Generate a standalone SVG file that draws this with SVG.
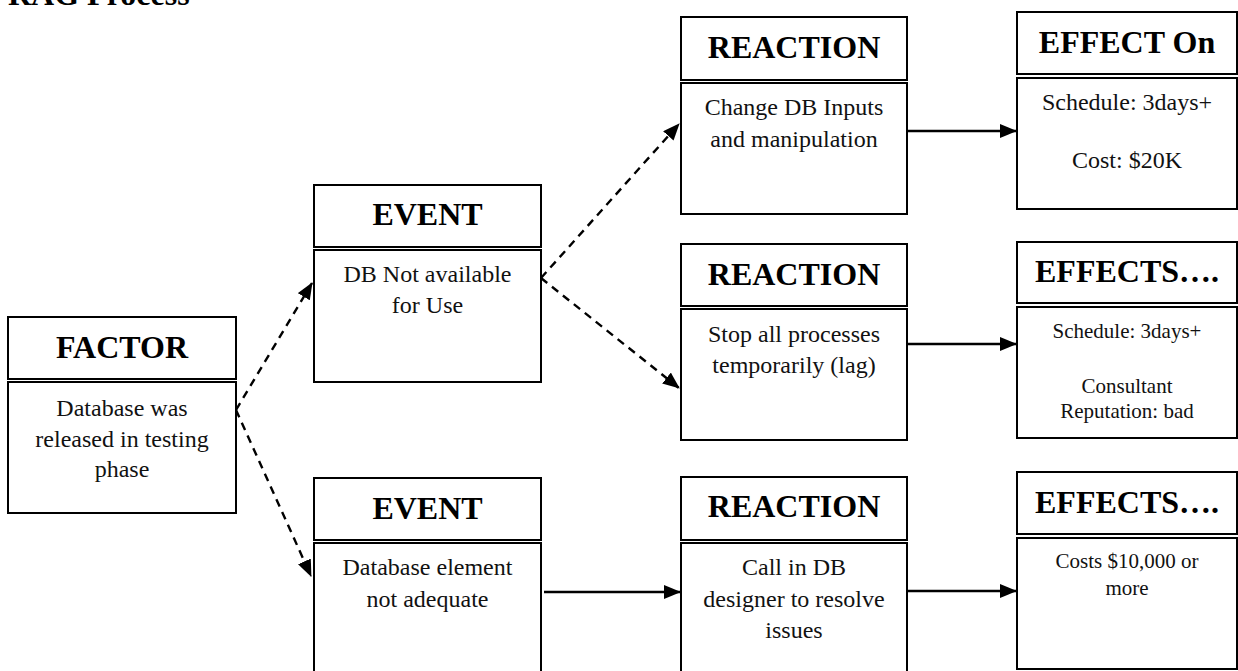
<svg xmlns="http://www.w3.org/2000/svg" width="1238" height="671" viewBox="0 0 1238 671">
<style>
.box{fill:#fff;stroke:#000;stroke-width:2}
.hd{font-family:"Liberation Serif","Times New Roman",serif;font-weight:bold;font-size:32px;text-anchor:middle;fill:#000}
.tx{font-family:"Liberation Serif","Times New Roman",serif;font-size:24px;text-anchor:middle;fill:#111}
.sm{font-family:"Liberation Serif","Times New Roman",serif;font-size:21px;text-anchor:middle;fill:#111}
.dash{fill:none;stroke:#000;stroke-width:2.4;stroke-dasharray:8 6}
.solid{fill:none;stroke:#000;stroke-width:2.6}
</style>
<defs>
<marker id="ah" markerUnits="userSpaceOnUse" markerWidth="17" markerHeight="14" refX="16" refY="7" orient="auto" viewBox="0 0 17 14">
<path d="M0,0 L17,7 L0,14 z" fill="#000"/>
</marker>
</defs>
<rect width="1238" height="671" fill="#fff"/>
<text x="8" y="5" font-family="Liberation Serif,Times New Roman,serif" font-weight="bold" font-size="32" fill="#000">RAG Process</text>

<g id="connectors">
<path class="dash" d="M236,410 L312,283" marker-end="url(#ah)"/>
<path class="dash" d="M236,410 L311,576" marker-end="url(#ah)"/>
<path class="dash" d="M541,278 L679,124" marker-end="url(#ah)"/>
<path class="dash" d="M541,278 L679,388" marker-end="url(#ah)"/>
<path class="solid" d="M907,131 L1016,131" marker-end="url(#ah)"/>
<path class="solid" d="M907,344 L1016,344" marker-end="url(#ah)"/>
<path class="solid" d="M544,592 L680,592" marker-end="url(#ah)"/>
<path class="solid" d="M907,591 L1016,591" marker-end="url(#ah)"/>
</g>

<g id="factor">
<rect class="box" x="8" y="317" width="228" height="62"/>
<rect class="box" x="8" y="382" width="228" height="131"/>
<text class="hd" x="122" y="358">FACTOR</text>
<text class="tx" x="122" y="416">Database was</text>
<text class="tx" x="122" y="447">released in testing</text>
<text class="tx" x="122" y="477">phase</text>
</g>

<g id="event1">
<rect class="box" x="314" y="185" width="227" height="62"/>
<rect class="box" x="314" y="250" width="227" height="132"/>
<text class="hd" x="427.5" y="225">EVENT</text>
<text class="tx" x="427.5" y="282">DB Not available</text>
<text class="tx" x="427.5" y="313">for Use</text>
</g>

<g id="event2">
<rect class="box" x="314" y="478" width="227" height="62"/>
<rect class="box" x="314" y="543" width="227" height="140"/>
<text class="hd" x="427.5" y="519">EVENT</text>
<text class="tx" x="427.5" y="575">Database element</text>
<text class="tx" x="427.5" y="607">not adequate</text>
</g>

<g id="reaction1">
<rect class="box" x="681" y="17" width="226" height="63"/>
<rect class="box" x="681" y="83" width="226" height="131"/>
<text class="hd" x="794" y="58">REACTION</text>
<text class="tx" x="794" y="115">Change DB Inputs</text>
<text class="tx" x="794" y="147">and manipulation</text>
</g>

<g id="reaction2">
<rect class="box" x="681" y="244" width="226" height="62"/>
<rect class="box" x="681" y="309" width="226" height="131"/>
<text class="hd" x="794" y="285">REACTION</text>
<text class="tx" x="794" y="342">Stop all processes</text>
<text class="tx" x="794" y="373">temporarily (lag)</text>
</g>

<g id="reaction3">
<rect class="box" x="681" y="477" width="226" height="63"/>
<rect class="box" x="681" y="543" width="226" height="140"/>
<text class="hd" x="794" y="517">REACTION</text>
<text class="tx" x="794" y="575">Call in DB</text>
<text class="tx" x="794" y="607">designer to resolve</text>
<text class="tx" x="794" y="638">issues</text>
</g>

<g id="effect1">
<rect class="box" x="1017" y="12" width="220" height="62"/>
<rect class="box" x="1017" y="78" width="220" height="131"/>
<text class="hd" x="1127" y="53">EFFECT On</text>
<text class="tx" x="1127" y="110">Schedule: 3days+</text>
<text class="tx" x="1127" y="168">Cost: $20K</text>
</g>

<g id="effect2">
<rect class="box" x="1017" y="242" width="220" height="61"/>
<rect class="box" x="1017" y="307" width="220" height="131"/>
<text class="hd" x="1127" y="282">EFFECTS….</text>
<text class="sm" x="1127" y="338">Schedule: 3days+</text>
<text class="sm" x="1127" y="393">Consultant</text>
<text class="sm" x="1127" y="418">Reputation: bad</text>
</g>

<g id="effect3">
<rect class="box" x="1017" y="472" width="220" height="62"/>
<rect class="box" x="1017" y="538" width="220" height="131"/>
<text class="hd" x="1127" y="513">EFFECTS….</text>
<text class="sm" x="1127" y="568">Costs $10,000 or</text>
<text class="sm" x="1127" y="595">more</text>
</g>
</svg>
